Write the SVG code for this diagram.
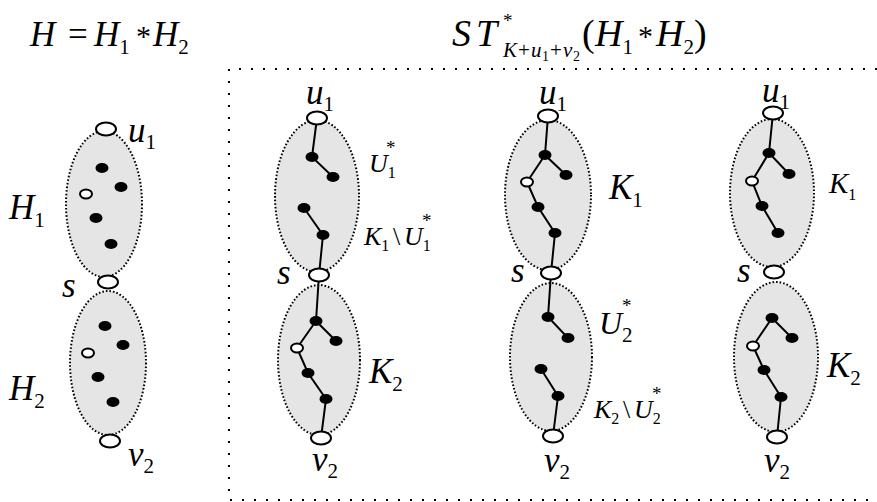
<svg xmlns="http://www.w3.org/2000/svg" width="877" height="502" viewBox="0 0 877 502">
<style>
.reg{fill:#e5e5e5;stroke:#000;stroke-width:2;stroke-dasharray:1.6 2}
.end{fill:#fff;stroke:#000;stroke-width:2}
.dot{fill:#000}
.odot{fill:#fff;stroke:#000;stroke-width:2}
.edge{stroke:#000;stroke-width:2;fill:none}
.frame{fill:none;stroke:#000;stroke-width:2;stroke-dasharray:2 10}
text{font-family:"Liberation Serif","Times New Roman",serif;fill:#000}
.m{font-style:italic;font-size:35px}
.t{font-style:italic;font-size:38px}
.sm{font-style:italic;font-size:26px}
.k4{font-style:italic;font-size:29px}
.u2{font-style:italic;font-size:32px}
.s1{font-size:21px;font-style:normal}
.s2{font-size:16px;font-style:normal}
.star{font-size:19px;font-style:normal}
.ast{font-size:30px;font-style:normal}
.si{font-size:21px;font-style:italic}
.tn{font-size:14px;font-style:normal}
.up{font-style:normal}
</style>
<g id="title-left">
<text x="30" y="46" class="m">H<tspan class="up" x="68">=</tspan><tspan x="94">H</tspan><tspan class="s1" dy="8">1</tspan><tspan class="ast" x="136" dy="-8">*</tspan><tspan x="153">H</tspan><tspan class="s1" dy="8">2</tspan></text>
</g>
<g id="title-right">
<text x="452" y="46" class="t">S<tspan x="476">T</tspan><tspan class="star" x="503" dy="-19">*</tspan><tspan class="si" x="503" dy="30">K</tspan><tspan class="s1" x="518">+</tspan><tspan class="si" x="531">u</tspan><tspan class="tn" x="542" dy="4">1</tspan><tspan class="s1" x="550" dy="-4">+</tspan><tspan class="si" x="563">v</tspan><tspan class="tn" x="573" dy="4">2</tspan><tspan class="up" x="582" dy="-15">(</tspan><tspan x="595">H</tspan><tspan class="s1" dy="8">1</tspan><tspan class="ast" x="638" dy="-8">*</tspan><tspan x="656">H</tspan><tspan class="s1" dy="8">2</tspan><tspan class="up" x="694" dy="-8">)</tspan></text>
</g>
<path id="frame" class="frame" d="M877 69 H229 V500 H877"/>

<g id="H1">
<ellipse class="reg" cx="104" cy="204" rx="38" ry="73"/>
<ellipse class="dot" cx="102" cy="168" rx="6.5" ry="5"/>
<ellipse class="dot" cx="121" cy="187" rx="6.5" ry="5"/>
<ellipse class="odot" cx="86" cy="194" rx="6" ry="4.5"/>
<ellipse class="dot" cx="96" cy="218" rx="6.5" ry="5"/>
<ellipse class="dot" cx="111" cy="244" rx="6.5" ry="5"/>
<text x="9" y="219" class="m">H<tspan class="s1" dy="8">1</tspan></text>
</g>
<g id="H2">
<ellipse class="reg" cx="108" cy="363" rx="38" ry="72"/>
<ellipse class="dot" cx="105" cy="326" rx="6.5" ry="5"/>
<ellipse class="dot" cx="123" cy="345" rx="6.5" ry="5"/>
<ellipse class="odot" cx="88" cy="353" rx="6" ry="4.5"/>
<ellipse class="dot" cx="98" cy="377" rx="6.5" ry="5"/>
<ellipse class="dot" cx="113" cy="402" rx="6.5" ry="5"/>
<text x="9" y="400" class="m">H<tspan class="s1" dy="8">2</tspan></text>
</g>
<g id="u1-a"><ellipse class="end" cx="106" cy="129" rx="10" ry="6.5"/><text x="128" y="142" class="m">u<tspan class="s1" dy="7">1</tspan></text></g>
<g id="s-a"><ellipse class="end" cx="108" cy="282" rx="10" ry="6.5"/><text x="62" y="297" class="m">s</text></g>
<g id="v2-a"><ellipse class="end" cx="110" cy="441" rx="10" ry="6.5"/><text x="128" y="466" class="m">v<tspan class="s1" dy="7">2</tspan></text></g>

<g id="col2-top"><ellipse class="reg" cx="317" cy="196" rx="42" ry="76"/></g>
<g id="col2-bot"><ellipse class="reg" cx="319" cy="360" rx="41" ry="75"/></g>
<g id="col3-top"><ellipse class="reg" cx="548" cy="195" rx="43" ry="75"/></g>
<g id="col3-bot"><ellipse class="reg" cx="551" cy="357" rx="41" ry="74"/></g>
<g id="col4-top"><ellipse class="reg" cx="772" cy="193" rx="42" ry="74"/></g>
<g id="col4-bot"><ellipse class="reg" cx="776" cy="357" rx="42" ry="75"/></g>

<g id="connectors">
<polyline class="edge" points="317,118 312,157 333,177"/>
<polyline class="edge" points="304,208 323,235 319,275 316,321 336,341"/>
<polyline class="edge" points="316,321 297,348 308,373 326,399 321,438"/>
<polyline class="edge" points="548,116 545,155 566,175"/>
<polyline class="edge" points="545,155 527,182 538,207 555,233 551,273 548,317 568,338"/>
<polyline class="edge" points="541,369 558,396 553,436"/>
<polyline class="edge" points="773,113 769,153 789,174"/>
<polyline class="edge" points="769,153 752,181 762,206 778,233"/>
<polyline class="edge" points="772,318 792,338"/>
<polyline class="edge" points="772,318 753,346 764,370 781,397 777,437"/>
</g>

<g id="col2-nodes">
<ellipse class="dot" cx="312" cy="157" rx="6.5" ry="5"/>
<ellipse class="dot" cx="333" cy="177" rx="6.5" ry="5"/>
<ellipse class="dot" cx="304" cy="208" rx="6.5" ry="5"/>
<ellipse class="dot" cx="323" cy="235" rx="6.5" ry="5"/>
<ellipse class="dot" cx="316" cy="321" rx="6.5" ry="5"/>
<ellipse class="dot" cx="336" cy="341" rx="6.5" ry="5"/>
<ellipse class="odot" cx="297" cy="348" rx="6" ry="4.5"/>
<ellipse class="dot" cx="308" cy="373" rx="6.5" ry="5"/>
<ellipse class="dot" cx="326" cy="399" rx="6.5" ry="5"/>
</g>
<g id="col3-nodes">
<ellipse class="dot" cx="545" cy="155" rx="6.5" ry="5"/>
<ellipse class="dot" cx="566" cy="175" rx="6.5" ry="5"/>
<ellipse class="odot" cx="527" cy="182" rx="6" ry="4.5"/>
<ellipse class="dot" cx="538" cy="207" rx="6.5" ry="5"/>
<ellipse class="dot" cx="555" cy="233" rx="6.5" ry="5"/>
<ellipse class="dot" cx="548" cy="317" rx="6.5" ry="5"/>
<ellipse class="dot" cx="568" cy="338" rx="6.5" ry="5"/>
<ellipse class="dot" cx="541" cy="369" rx="6.5" ry="5"/>
<ellipse class="dot" cx="558" cy="396" rx="6.5" ry="5"/>
</g>
<g id="col4-nodes">
<ellipse class="dot" cx="769" cy="153" rx="6.5" ry="5"/>
<ellipse class="dot" cx="789" cy="174" rx="6.5" ry="5"/>
<ellipse class="odot" cx="752" cy="181" rx="6" ry="4.5"/>
<ellipse class="dot" cx="762" cy="206" rx="6.5" ry="5"/>
<ellipse class="dot" cx="778" cy="233" rx="6.5" ry="5"/>
<ellipse class="dot" cx="772" cy="318" rx="6.5" ry="5"/>
<ellipse class="dot" cx="792" cy="338" rx="6.5" ry="5"/>
<ellipse class="odot" cx="753" cy="346" rx="6" ry="4.5"/>
<ellipse class="dot" cx="764" cy="370" rx="6.5" ry="5"/>
<ellipse class="dot" cx="781" cy="397" rx="6.5" ry="5"/>
</g>

<g id="u1-b"><ellipse class="end" cx="317" cy="118" rx="10" ry="6.5"/><text x="306" y="104" class="m">u<tspan class="s1" dy="7">1</tspan></text></g>
<g id="s-b"><ellipse class="end" cx="319" cy="275" rx="10" ry="6.5"/><text x="277" y="284" class="m">s</text></g>
<g id="v2-b"><ellipse class="end" cx="321" cy="438" rx="10" ry="6.5"/><text x="312" y="471" class="m">v<tspan class="s1" dy="7">2</tspan></text></g>
<g id="u1-c"><ellipse class="end" cx="548" cy="116" rx="10" ry="6.5"/><text x="539" y="104" class="m">u<tspan class="s1" dy="7">1</tspan></text></g>
<g id="s-c"><ellipse class="end" cx="551" cy="273" rx="10" ry="6.5"/><text x="511" y="282" class="m">s</text></g>
<g id="v2-c"><ellipse class="end" cx="553" cy="436" rx="10" ry="6.5"/><text x="544" y="472" class="m">v<tspan class="s1" dy="7">2</tspan></text></g>
<g id="u1-d"><ellipse class="end" cx="773" cy="113" rx="10" ry="6.5"/><text x="762" y="102" class="m">u<tspan class="s1" dy="7">1</tspan></text></g>
<g id="s-d"><ellipse class="end" cx="774" cy="272" rx="10" ry="6.5"/><text x="737" y="282" class="m">s</text></g>
<g id="v2-d"><ellipse class="end" cx="777" cy="437" rx="10" ry="6.5"/><text x="764" y="472" class="m">v<tspan class="s1" dy="7">2</tspan></text></g>

<g id="labels">
<text x="369" y="172" class="sm">U<tspan class="s2" dy="6">1</tspan><tspan class="star" x="386" dy="-24">*</tspan></text>
<text x="364" y="245" class="sm">K<tspan class="s2" dy="6">1</tspan><tspan class="up" x="393" dy="-6">\</tspan><tspan x="404">U</tspan><tspan class="s2" dy="6">1</tspan><tspan class="star" x="422" dy="-24">*</tspan></text>
<text x="369" y="383" class="m">K<tspan class="s1" dy="8">2</tspan></text>
<text x="609" y="199" class="m">K<tspan class="s1" dy="8">1</tspan></text>
<text x="599" y="334" class="u2">U<tspan class="s1" dy="8">2</tspan><tspan class="star" x="622" dy="-30">*</tspan></text>
<text x="594" y="418" class="sm">K<tspan class="s2" dy="6">2</tspan><tspan class="up" x="623" dy="-6">\</tspan><tspan x="634">U</tspan><tspan class="s2" dy="6">2</tspan><tspan class="star" x="652" dy="-24">*</tspan></text>
<text x="829" y="193" class="k4">K<tspan class="s2" dy="7">1</tspan></text>
<text x="827" y="377" class="m">K<tspan class="s1" dy="8">2</tspan></text>
</g>
</svg>
